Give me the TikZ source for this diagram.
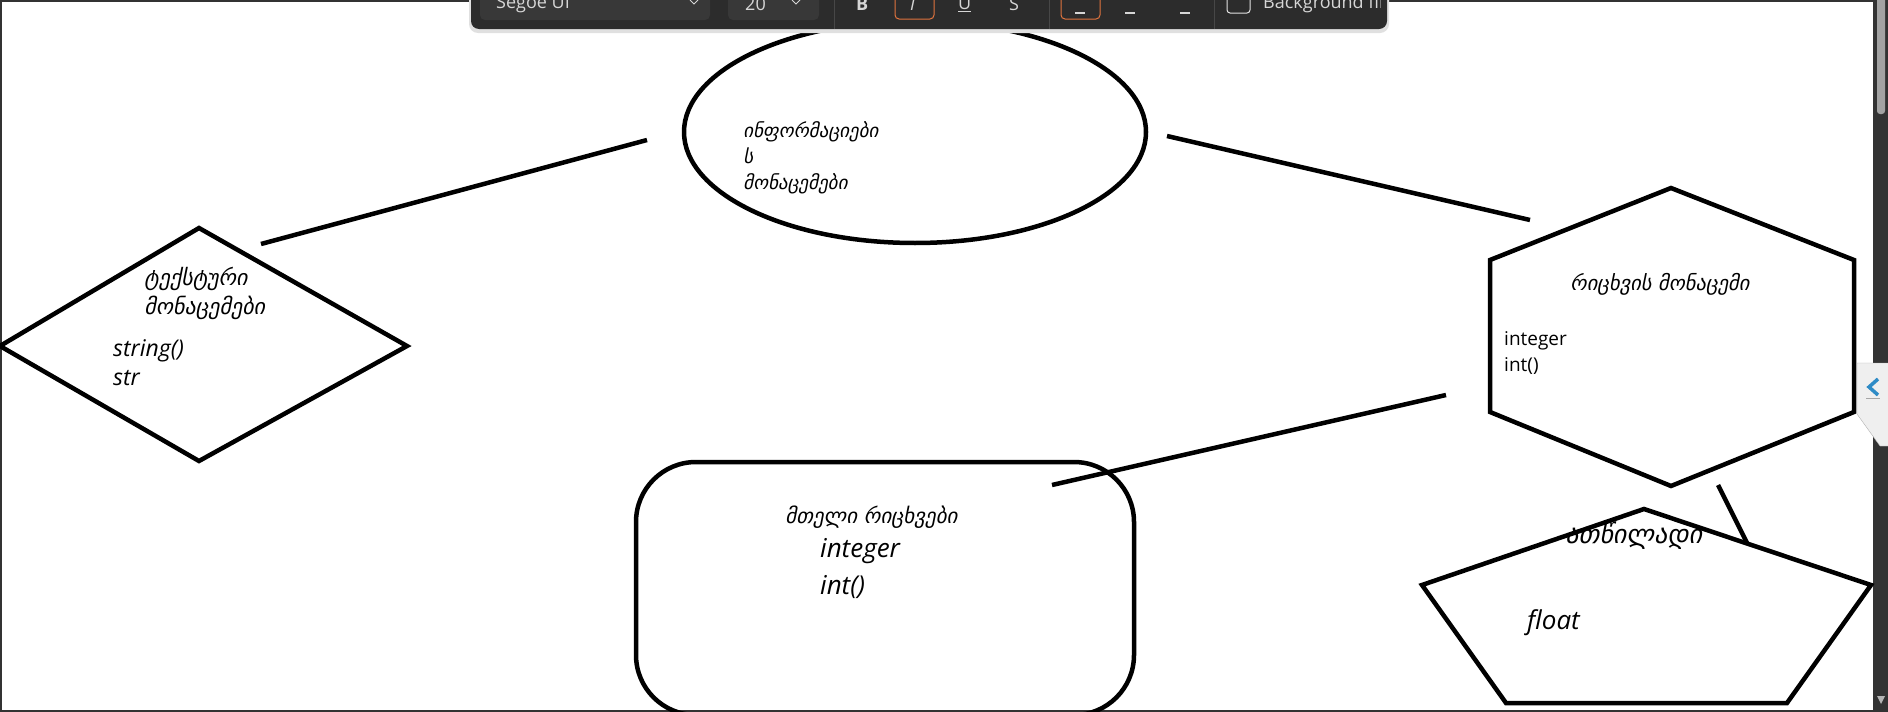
\documentclass[tikz,border=0pt]{standalone}
\usepackage{fontspec}
\setmainfont{Open Sans}
\newfontfamily\geofont{DejaVu Sans}[FakeSlant=0.2]
\usetikzlibrary{shapes.geometric,positioning}
\definecolor{barbg}{HTML}{2C2C2C}
\definecolor{barbox}{HTML}{383838}
\definecolor{barsep}{HTML}{474747}
\definecolor{bartext}{HTML}{D6D6D6}
\definecolor{pickorange}{HTML}{E0743E}
\definecolor{framegray}{HTML}{333333}
\definecolor{thumbgray}{HTML}{A3A3A3}
\definecolor{tabgray}{HTML}{EFEFEF}
\definecolor{chevblue}{HTML}{2E8BC6}

\tikzset{
  outline/.style={draw=black, line width=4.5pt, line join=miter},
  link/.style={draw=black, line width=4.5pt},
  geotext/.style n args={2}{anchor=west, inner sep=0pt, align=left, font=\geofont\fontsize{#1}{#2}\selectfont},
  lattext/.style n args={2}{anchor=west, inner sep=0pt, align=left, font=\fontsize{#1}{#2}\selectfont},
  slanttext/.style n args={2}{anchor=west, inner sep=0pt, align=left, font=\itshape\fontsize{#1}{#2}\selectfont},
  bartxt/.style={anchor=west, inner sep=0pt, text=bartext, font=\fontsize{18}{18}\selectfont},
  barbutton/.style={draw=pickorange, line width=1pt, rounded corners=4pt}
}

\begin{document}
\begin{tikzpicture}[x=1pt,y=-1pt]
    \useasboundingbox (0,0) rectangle (1888,712);
    \begin{scope}
        \clip (0,0) rectangle (1888,712);
        \fill[white] (0,0) rectangle (1888,712);
        % window frame and scrollbar
        \fill[framegray] (0,0) rectangle (1888,2);
        \fill[framegray] (0,0) rectangle (2,712);
        \fill[framegray] (0,710) rectangle (1888,712);
        \fill[framegray] (1873,0) rectangle (1888,712);
        \fill[thumbgray, rounded corners=3pt] (1877,-10) rectangle (1885,114);
        \fill[thumbgray!80] (1877,696) -- (1885,696) -- (1881,704) -- cycle;

        % connectors
        \coordinate (textLinkA) at (261,244);
        \coordinate (textLinkB) at (647,140);
        \coordinate (numLinkA) at (1167,136);
        \coordinate (numLinkB) at (1530,220);
        \coordinate (wholeLinkA) at (1052,485);
        \coordinate (wholeLinkB) at (1446,395);
        \coordinate (floatLinkA) at (1718,485);
        \coordinate (floatLinkB) at (1747,543);
        \draw[link] (textLinkA) -- (textLinkB);
        \draw[link] (numLinkA) -- (numLinkB);
        \draw[link] (wholeLinkA) -- (wholeLinkB);
        \draw[link] (floatLinkA) -- (floatLinkB);

        % information
        \node[outline, ellipse, minimum width=462, minimum height=222, inner sep=0pt] (infoN) at (915,132) {};
        \node[geotext={19}{26}] (infoT) at (743,158) {ინფორმაციები\\ს\\მონაცემები};

        % text data
        \draw[outline] (0,346) -- (199,228) -- (407,346) -- (199,461) -- cycle;
        \node[geotext={22}{29}] (textT) at (144,293) {ტექსტური\\მონაცემები};
        \node[slanttext={23}{29}] (textL) at (113,363) {string()\\str};

        % number data
        \draw[outline] (1671,188) -- (1854,260) -- (1854,412) -- (1671,486) -- (1490,412) -- (1490,260) -- cycle;
        \node[geotext={20.5}{22}] (numT) at (1570,284) {რიცხვის მონაცემი};
        \node[lattext={19}{26}] (numL) at (1504,353) {integer\\int()};

        % whole numbers
        \node[outline, rounded corners=60, minimum width=498, minimum height=253, inner sep=0pt] (wholeN) at (885,588.5) {};
        \node[geotext={21}{22}] (wholeT) at (785,517) {მთელი რიცხვები};
        \node[slanttext={26}{37}] (wholeL) at (820,569) {integer\\int()};

        % float
        \node[geotext={26}{26}] (floatT) at (1565,536) {ათწილადი};
        \draw[outline] (1644,509) -- (1871,585) -- (1787,703) -- (1506,703) -- (1422,585) -- cycle;
        \node[slanttext={26}{26}] (floatL) at (1527,623) {float};

        % side tab
        \draw[draw=gray!60, fill=tabgray] (1888,363) -- (1857,363) -- (1857,414) -- (1880,446) -- (1888,446);
        \draw[chevblue, line width=3.5pt, line join=miter] (1878,379) -- (1869,387) -- (1878,395);
        \draw[gray!70, line width=1pt] (1866,398) -- (1880,398);

        % toolbar
        \fill[black!12, rounded corners=9pt] (469,-20) rectangle (1389,33);
        \fill[barbg, rounded corners=8pt] (471,-20) rectangle (1387,29);
        \fill[barbox, rounded corners=5pt] (480,-20) rectangle (710,20);
        \fill[barbox, rounded corners=5pt] (728,-20) rectangle (819,20);
        \node[bartxt] (fontName) at (496,4) {Segoe UI};
        \node[bartxt] (fontSize) at (745,4) {20};
        \foreach \cx in {694,796}
            \draw[bartext, line width=0.8pt] (\cx-4,0) -- (\cx,4) -- (\cx+4,0);
        \foreach \sx in {834,1049,1214}
            \draw[barsep, line width=1pt] (\sx,-5) -- (\sx,29);
        \node[bartxt, font=\bfseries\fontsize{18}{18}\selectfont] (boldB) at (856,4) {B};
        \draw[barbutton] (895,-10) rectangle (934,19);
        \node[bartxt, font=\itshape\fontsize{18}{18}\selectfont] (italI) at (910,4) {I};
        \node[bartxt] (underU) at (958,4) {\underline{U}};
        \node[bartxt] (strikeS) at (1009,4) {S};
        \draw[barbutton] (1061,-10) rectangle (1100,19);
        \foreach \ax in {1080,1130,1185}
            \draw[bartext, line width=1.2pt] (\ax-5,13) -- (\ax+5,13);
        \draw[bartext!70, line width=1pt, rounded corners=3pt] (1227,-10) rectangle (1250,13);
        \begin{scope}
            \clip (471,-20) rectangle (1380,29);
            \node[bartxt] (bgFill) at (1263,4) {Background fill};
        \end{scope}
    \end{scope}
\end{tikzpicture}
\end{document}
